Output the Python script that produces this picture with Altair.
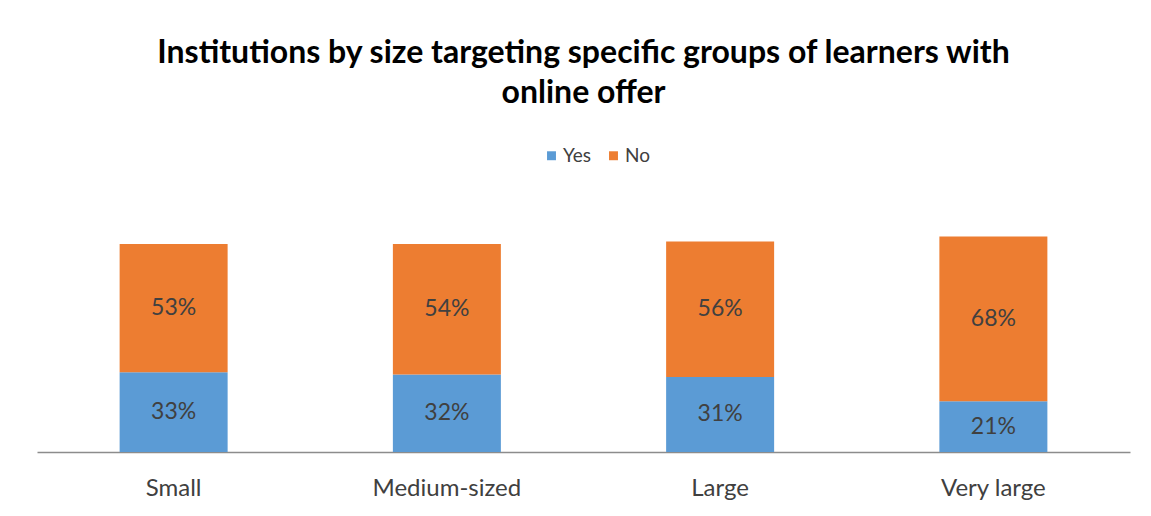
import altair as alt
import pandas as pd

categories = ["Small", "Medium-sized", "Large", "Very large"]
yes_values = [33, 32, 31, 21]
no_values = [53, 54, 56, 68]
series = ["Yes", "No"]
colors = ["#5B9BD5", "#ED7D31"]

rows = []
for c, y, n in zip(categories, yes_values, no_values):
    rows.append({"size": c, "group": "Yes", "value": y, "ord": 0})
    rows.append({"size": c, "group": "No", "value": n, "ord": 1})
df = pd.DataFrame(rows)

FONT = "Lato"

base = alt.Chart(df).transform_stack(
    stack="value", groupby=["size"], as_=["v0", "v1"], sort=[alt.SortField("ord", order="ascending")]
).transform_calculate(
    mid="(datum.v0 + datum.v1) / 2",
    lab="datum.value + '%'"
)

x_enc = alt.X("size:N", sort=categories, title=None,
              scale=alt.Scale(paddingInner=0, paddingOuter=0),
              axis=alt.Axis(labelAngle=0, labelFont=FONT, labelFontSize=24, labelColor="#404040",
                            labelPadding=24, ticks=False, domainColor="#8c8c8c", domainWidth=1.5))

bars = base.mark_bar(size=108).encode(
    x=x_enc,
    y=alt.Y("v0:Q", scale=alt.Scale(domain=[0, 100]), axis=None),
    y2="v1:Q",
    color=alt.Color("group:N", sort=series,
                    scale=alt.Scale(domain=series, range=colors),
                    legend=alt.Legend(title=None, orient="none", legendX=505, legendY=-64,
                                      direction="horizontal", symbolType="square", symbolSize=80,
                                      symbolStrokeWidth=0, labelFont=FONT, labelFontSize=19,
                                      labelColor="#404040", columnPadding=12, labelOffset=2)),
    order=alt.Order("ord:Q")
)

labels = base.mark_text(font=FONT, fontSize=23, color="#404040").encode(
    x=alt.X("size:N", sort=categories),
    y=alt.Y("mid:Q"),
    text="lab:N"
)

chart = alt.layer(bars, labels).properties(
    width=1093,
    height=242,
    background="white",
    autosize=alt.AutoSizeParams(type="none"),
    padding={"left": 29, "top": 202, "right": 10, "bottom": 60},
    title=alt.Title(
        ["Institutions by size targeting specific groups of learners with", "online offer"],
        font=FONT, fontSize=32, fontWeight="bold", color="#000000", anchor="middle",
        lineHeight=40, offset=36
    )
).configure_view(stroke=None)

chart.save("out.html", embed_options={"renderer": "svg", "actions": False})
